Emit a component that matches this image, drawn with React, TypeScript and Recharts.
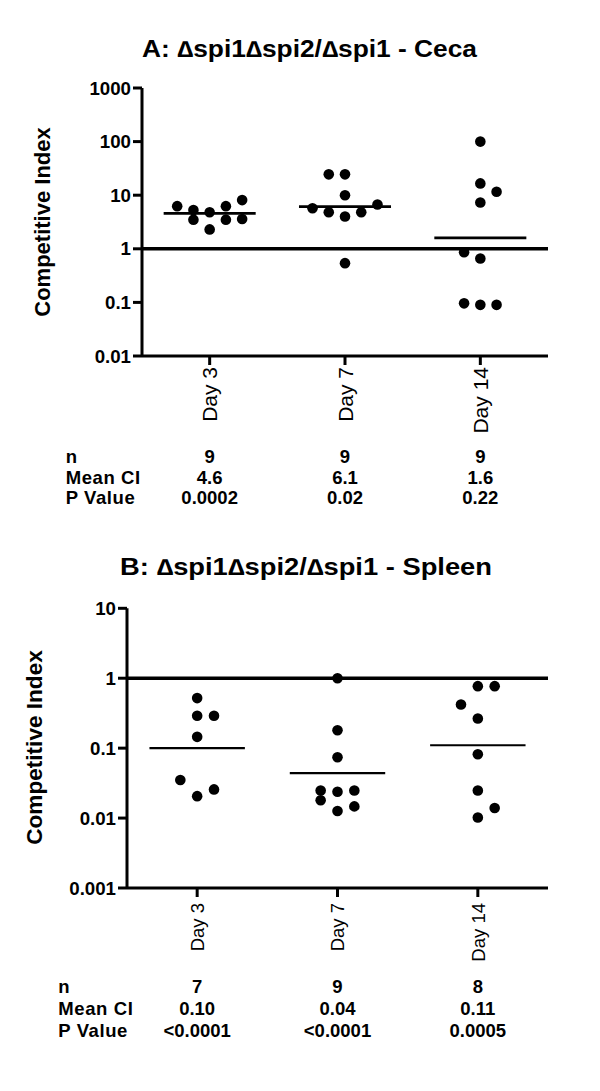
import React from 'react';
import { ScatterChart, Scatter, XAxis, YAxis, ReferenceLine } from 'recharts';

const FONT = '"Liberation Sans", Arial, sans-serif';

const days = ['Day 3', 'Day 7', 'Day 14'];
const rowLabels = ['n', 'Mean CI', 'P Value'];

// A: ceca
const cecaDay3 = [6.25, 5.3, 3.5, 4.8, 2.3, 6.25, 3.5, 8.1, 3.6];
const cecaDay7 = [24.5, 24.5, 10, 5.7, 4.8, 4.0, 4.8, 6.7, 0.54];
const cecaDay14 = [100, 16.6, 11.6, 7.3, 0.86, 0.66, 0.096, 0.09, 0.09];
// column each dot sits in, left to right (-2..2)
const cecaSlot3 = [-2, -1, -1, 0, 0, 1, 1, 2, 2];
const cecaSlot7 = [-1, 0, 0, -2, -1, 0, 1, 2, 0];
const cecaSlot14 = [0, 0, 1, 0, -1, 0, -1, 0, 1];
const cecaMean = [4.6, 6.1, 1.6];
const cecaN = [9, 9, 9];
const cecaP = ['0.0002', '0.02', '0.22'];

// B: spleen
const spleenDay3 = [0.52, 0.29, 0.29, 0.145, 0.035, 0.0206, 0.0257];
const spleenDay7 = [1.0, 0.18, 0.074, 0.0248, 0.018, 0.0238, 0.0248, 0.0126, 0.0147];
const spleenDay14 = [0.77, 0.77, 0.42, 0.265, 0.082, 0.0248, 0.0139, 0.0102];
const spleenSlot3 = [0, 0, 1, 0, -1, 0, 1];
const spleenSlot7 = [0, 0, 0, -1, -1, 0, 1, 0, 1];
const spleenSlot14 = [0, 1, -1, 0, 0, 0, 1, 0];
const spleenMean = [0.1, 0.044, 0.11];
const spleenN = [7, 9, 8];
const spleenP = ['<0.0001', '<0.0001', '0.0005'];

const toPoints = (groups: number[][], slots: number[][]) =>
  groups.flatMap((vals, i) => vals.map((v, j) => ({ x: i + 0.5 + slots[i][j] * 0.12, y: v })));

const Dot = (p: any) => <circle cx={p.cx} cy={p.cy} r={5.3} fill="#000" />;

const DayTick = (props: any) => {
  const { x, y, payload, cfg } = props;
  const idx = Math.round(payload.value - 0.5);
  const vals = [String(cfg.n[idx]), cfg.meanText[idx], cfg.p[idx]];
  return (
    <g fontFamily={FONT} fill="#000">
      <text
        transform={`translate(${x},${y}) rotate(-90)`}
        textAnchor="end"
        dy="0.36em"
        fontSize={cfg.dayFont}
      >
        {days[idx]}
      </text>
      {vals.map((v, r) => (
        <text key={r} x={x} y={y + cfg.rowY[r]} textAnchor="middle" fontSize={18.5} fontWeight="bold">
          {v}
        </text>
      ))}
      {idx === 0 &&
        rowLabels.map((l, r) => (
          <text key={'l' + r} x={cfg.labelX} y={y + cfg.rowY[r]} fontSize={18.5} fontWeight="bold" letterSpacing={0.6}>
            {l}
          </text>
        ))}
    </g>
  );
};

const Panel = ({ cfg }: { cfg: any }) => (
  <ScatterChart
    width={600}
    height={cfg.height}
    margin={{ top: cfg.top, right: 52, bottom: 0, left: 0 }}
  >
    <XAxis
      type="number"
      dataKey="x"
      domain={[0, 3]}
      ticks={[0.5, 1.5, 2.5]}
      interval={0}
      height={cfg.xAxisHeight}
      tickSize={9}
      tickMargin={cfg.tickMargin}
      axisLine={{ stroke: '#000', strokeWidth: 3 }}
      tickLine={{ stroke: '#000', strokeWidth: 3 }}
      tick={(p: any) => <DayTick {...p} cfg={cfg} />}
    />
    <YAxis
      type="number"
      dataKey="y"
      scale="log"
      domain={cfg.domain}
      ticks={cfg.yTicks}
      interval={0}
      allowDataOverflow
      width={cfg.yAxisWidth}
      tickSize={9}
      axisLine={{ stroke: '#000', strokeWidth: 3 }}
      tickLine={{ stroke: '#000', strokeWidth: 3 }}
      tick={{ fill: '#000', fontSize: 18.7, fontWeight: 'bold', fontFamily: FONT }}
      tickFormatter={(v: number) => String(v)}
    />
    <ReferenceLine y={1} stroke="#000" strokeWidth={3.4} />
    {cfg.means.map((m: number, i: number) => (
      <ReferenceLine
        key={i}
        segment={[
          { x: i + 0.5 - 0.34, y: m },
          { x: i + 0.5 + 0.34, y: m },
        ]}
        stroke="#000"
        strokeWidth={cfg.meanWidth}
      />
    ))}
    <Scatter data={cfg.points} shape={Dot} isAnimationActive={false} />
  </ScatterChart>
);

const cecaCfg = {
  height: 520,
  top: 88,
  xAxisHeight: 164,
  yAxisWidth: 142,
  tickMargin: 2,
  domain: [0.01, 1000],
  yTicks: [0.01, 0.1, 1, 10, 100, 1000],
  dayFont: 21,
  rowY: [96.4, 116.8, 137.4],
  labelX: 65.7,
  n: cecaN,
  meanText: cecaMean.map((v) => v.toFixed(1)),
  p: cecaP,
  means: cecaMean,
  meanWidth: 2.7,
  points: toPoints([cecaDay3, cecaDay7, cecaDay14], [cecaSlot3, cecaSlot7, cecaSlot14]),
};

const spleenCfg = {
  height: 571,
  top: 88.3,
  xAxisHeight: 203,
  yAxisWidth: 127,
  tickMargin: 6,
  domain: [0.001, 10],
  yTicks: [0.001, 0.01, 0.1, 1, 10],
  dayFont: 18.5,
  rowY: [89.7, 111.7, 134.4],
  labelX: 58.3,
  n: spleenN,
  meanText: spleenMean.map((v) => v.toFixed(2)),
  p: spleenP,
  means: spleenMean,
  meanWidth: 2.2,
  points: toPoints([spleenDay3, spleenDay7, spleenDay14], [spleenSlot3, spleenSlot7, spleenSlot14]),
};

export default function App() {
  return (
    <div style={{ position: 'absolute', left: 0, top: 0, width: 600, height: 1091, background: '#fff' }}>
      <div style={{ position: 'absolute', left: 0, top: 0 }}>
        <Panel cfg={cecaCfg} />
      </div>
      <div style={{ position: 'absolute', left: 0, top: 520 }}>
        <Panel cfg={spleenCfg} />
      </div>
      <svg
        width={600}
        height={1091}
        style={{ position: 'absolute', left: 0, top: 0, pointerEvents: 'none' }}
        fontFamily={FONT}
        fontWeight="bold"
      >
        <text x={142} y={56.7} fontSize={23} textLength={335} lengthAdjust="spacingAndGlyphs">
          A: ∆spi1∆spi2/∆spi1 - Ceca
        </text>
        <text x={120} y={575} fontSize={23} textLength={372} lengthAdjust="spacingAndGlyphs">
          B: ∆spi1∆spi2/∆spi1 - Spleen
        </text>
        <text transform="translate(50,222) rotate(-90)" textAnchor="middle" fontSize={22}>
          Competitive Index
        </text>
        <text transform="translate(41.7,747.5) rotate(-90)" textAnchor="middle" fontSize={22.6}>
          Competitive Index
        </text>
      </svg>
    </div>
  );
}
